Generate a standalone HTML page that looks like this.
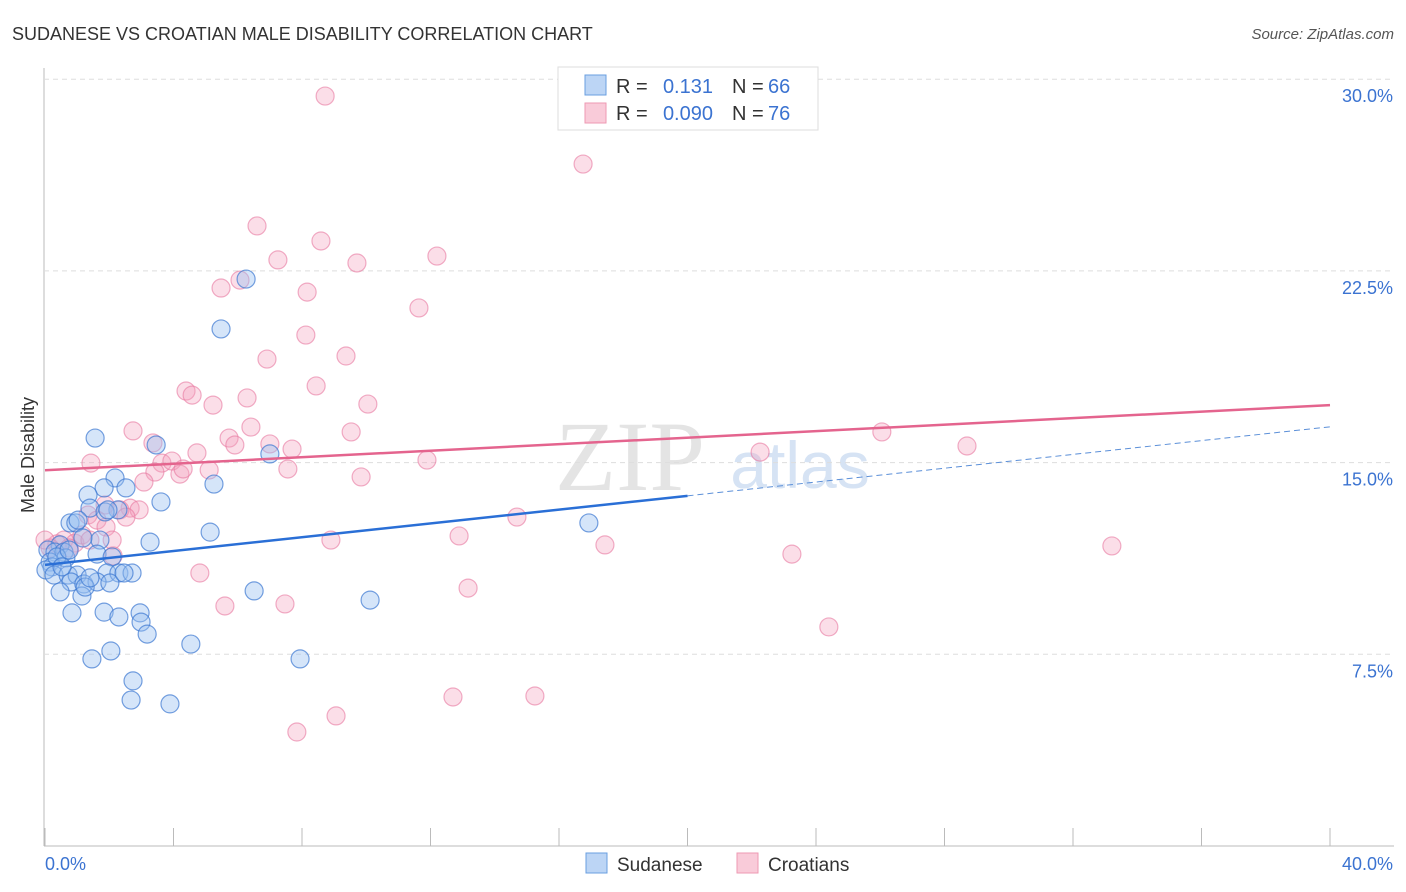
<!DOCTYPE html>
<html><head><meta charset="utf-8"><style>
body{margin:0;background:#fff;font-family:"Liberation Sans",sans-serif}
svg{display:block}
</style></head><body>
<svg width="1406" height="892" id="svg">
<text x="12" y="40" font-size="18" fill="#333">SUDANESE VS CROATIAN MALE DISABILITY CORRELATION CHART</text>
<text x="1394" y="39" font-size="15" fill="#555" font-style="italic" text-anchor="end">Source: ZipAtlas.com</text>
<text x="34" y="455" font-size="18" fill="#333" transform="rotate(-90 34 455)" text-anchor="middle">Male Disability</text>
<text x="630" y="490" font-size="100" fill="#e4e4e4" font-family="Liberation Serif" text-anchor="middle">ZIP</text>
<text x="800" y="488" font-size="66" fill="#d6e3f4" text-anchor="middle">atlas</text>
<g id="grid"></g><g id="marks"></g>
<g>
<rect x="558" y="67" width="260" height="63" fill="#fff" stroke="#ddd"/>
<rect x="585" y="75" width="21" height="20" fill="#bcd5f5" stroke="#6a9fe0"/>
<rect x="585" y="103" width="21" height="20" fill="#f9cbd9" stroke="#ee9ab3"/>
<text x="616" y="93" font-size="20" fill="#333">R =</text>
<text x="713" y="93" font-size="20" fill="#3b73d1" text-anchor="end">0.131</text>
<text x="732" y="93" font-size="20" fill="#333">N =</text>
<text x="768" y="93" font-size="20" fill="#3b73d1">66</text>
<text x="616" y="120" font-size="20" fill="#333">R =</text>
<text x="713" y="120" font-size="20" fill="#3b73d1" text-anchor="end">0.090</text>
<text x="732" y="120" font-size="20" fill="#333">N =</text>
<text x="768" y="120" font-size="20" fill="#3b73d1">76</text>
</g>
<g>
<rect x="586" y="853" width="21" height="20" fill="#bcd5f5" stroke="#6a9fe0"/>
<text x="617" y="871" font-size="19" fill="#333">Sudanese</text>
<rect x="737" y="853" width="21" height="20" fill="#f9cbd9" stroke="#ee9ab3"/>
<text x="768" y="871" font-size="19" fill="#333">Croatians</text>
</g>
</svg>
<script>
const xTicks=[0,4,8,12,16,20,24,28,32,36,40];
const yTicks=[7.5,15,22.5,30];
const bluePx=[[95,438],[156,445],[270,454],[115,478],[214,484],[104,488],[126,488],[88,495],[161,502],[90,508],[118,510],[105,512],[70,523],[76,523],[210,532],[589,523],[150,542],[100,540],[83,538],[60,545],[48,550],[55,552],[64,552],[97,554],[112,557],[66,558],[50,562],[52,567],[46,570],[54,575],[68,575],[77,575],[107,573],[119,573],[132,573],[71,582],[84,584],[97,582],[110,583],[60,592],[82,596],[254,591],[370,600],[72,613],[104,612],[119,617],[140,613],[141,622],[147,634],[191,644],[111,651],[92,659],[300,659],[133,681],[131,700],[170,704],[221,329],[246,279],[57,557],[85,587],[124,573],[62,567],[78,520],[108,510],[69,550],[90,578]];
const pinkPx=[[325,96],[583,164],[257,226],[321,241],[437,256],[278,260],[357,263],[240,280],[221,288],[307,292],[419,308],[306,335],[346,356],[267,359],[316,386],[186,391],[192,395],[213,405],[247,398],[368,404],[251,427],[133,431],[153,443],[229,438],[235,445],[351,432],[270,444],[292,449],[197,453],[882,432],[967,446],[760,452],[91,463],[162,463],[172,461],[155,472],[180,474],[183,469],[209,470],[288,469],[427,460],[361,477],[144,482],[105,505],[130,508],[120,510],[88,515],[139,510],[126,517],[97,520],[106,527],[517,517],[459,536],[331,540],[605,545],[792,554],[1112,546],[113,556],[64,540],[75,543],[57,544],[50,548],[82,535],[200,573],[468,588],[285,604],[225,606],[829,627],[453,697],[535,696],[336,716],[297,732],[45,540],[69,548],[90,540],[112,540]];
const sudaneseX=bluePx.map(p=>+((p[0]-45)/32.125).toFixed(2));
const sudaneseY=bluePx.map(p=>+((846-p[1])/25.56).toFixed(2));
const croatianX=pinkPx.map(p=>+((p[0]-45)/32.125).toFixed(2));
const croatianY=pinkPx.map(p=>+((846-p[1])/25.56).toFixed(2));
const blueTrend=[11.0,13.7,16.4];
const pinkTrend=[14.7,17.25];
const X=v=>45+v*32.125, Y=v=>846-v*25.56;
const NS="http://www.w3.org/2000/svg";
function mk(t,a,parent){const e=document.createElementNS(NS,t);for(const k in a)e.setAttribute(k,a[k]);parent.appendChild(e);return e;}
const g=document.getElementById('grid'),m=document.getElementById('marks');
const ax=mk('line',{x1:44,y1:68,x2:44,y2:846,stroke:'#bbb'},g);

const bx=mk('line',{x1:44,y1:846,x2:1394,y2:846,stroke:'#bbb'},g);

yTicks.forEach(v=>{const l=mk('line',{x1:44,y1:Y(v),x2:1394,y2:Y(v),stroke:'#ddd','stroke-dasharray':'5,4'},g);

const t=mk('text',{x:1393,y:Y(v)+23,'font-size':18,fill:'#3b73d1','text-anchor':'end'},g);t.textContent=v.toFixed(1)+'%';
});
xTicks.forEach(v=>{const l=mk('line',{x1:X(v),y1:828,x2:X(v),y2:846,stroke:'#bbb'},g);
});
[[0,'0.0%',45,'start'],[40,'40.0%',1393,'end']].forEach(a=>{const t=mk('text',{x:a[2],y:870,'font-size':18,fill:'#3b73d1','text-anchor':a[3]},g);t.textContent=a[1];
});
croatianX.forEach((x,i)=>{const c=mk('circle',{cx:X(x),cy:Y(croatianY[i]),r:9,fill:'rgba(244,160,190,0.35)',stroke:'rgba(232,120,160,0.6)','stroke-width':1.2},m);
});
sudaneseX.forEach((x,i)=>{const c=mk('circle',{cx:X(x),cy:Y(sudaneseY[i]),r:9,fill:'rgba(150,190,240,0.4)',stroke:'rgba(60,120,210,0.7)','stroke-width':1.2},m);
});
const pl=mk('line',{x1:X(0),y1:Y(pinkTrend[0]),x2:X(40),y2:Y(pinkTrend[1]),stroke:'#e4648e','stroke-width':2.5},m);

const bl=mk('line',{x1:X(0),y1:Y(blueTrend[0]),x2:X(20),y2:Y(blueTrend[1]),stroke:'#2a6fd6','stroke-width':2.5},m);

const bd=mk('line',{x1:X(20),y1:Y(blueTrend[1]),x2:X(40),y2:Y(blueTrend[2]),stroke:'#5b8fd8','stroke-width':1,'stroke-dasharray':'6,4'},m);

</script>
</body></html>
